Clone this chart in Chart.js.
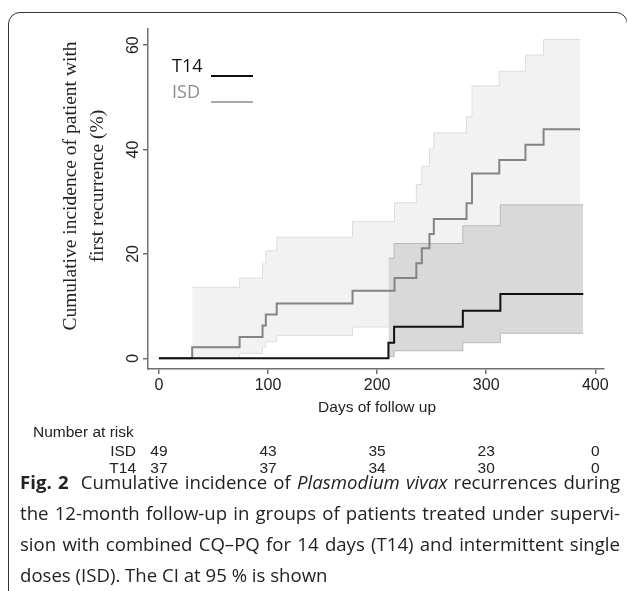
<!DOCTYPE html>
<html>
<head>
<meta charset="utf-8">
<script src="https://cdn.jsdelivr.net/npm/chart.js@4.4.1/dist/chart.umd.min.js"></script>
<style>
  html, body { margin: 0; padding: 0; background: #fff; }
  body { width: 627px; height: 591px; position: relative; overflow: hidden; }
  #frame {
    position: absolute; left: 8px; top: 12px; width: 620px; height: 700px;
    border: 1.5px solid #333; border-radius: 12px; box-sizing: border-box;
  }
  #grafik { position: absolute; left: 0; top: 0; }
  #caption {
    position: absolute; left: 20px; top: 466px; width: 600px;
    font-family: "Open Sans", sans-serif; font-size: 18.6px; color: #222;
    line-height: 31px;
  }
  #caption .l { white-space: nowrap; text-align: justify; text-align-last: justify; }
  #caption .l.last { text-align-last: left; }
  #caption b { font-weight: 700; margin-right: 6px; }
</style>
</head>
<body>
<div id="frame"></div>
<canvas id="grafik" width="627" height="591"></canvas>
<div id="caption">
  <div class="l"><b>Fig. 2</b> Cumulative incidence of <i>Plasmodium vivax</i> recurrences during</div>
  <div class="l">the 12-month follow-up in groups of patients treated under supervi-</div>
  <div class="l">sion with combined CQ–PQ for 14 days (T14) and intermittent single</div>
  <div class="l last">doses (ISD). The CI at 95 % is shown</div>
</div>
<script>
// ISD grubu (aralıklı tek doz)
const isdDays  = [0, 30.5, 74, 95, 98, 108, 177.5, 216, 236, 241, 248, 252, 282, 287, 312, 336, 352.6, 386];
const isdCum   = [0, 2.1, 4.1, 6.3, 8.4, 10.5, 12.95, 15.4, 18.2, 21.1, 23.8, 26.7, 29.7, 35.4, 38.0, 40.9, 43.9, 43.9];
const isdCiDays = [30.5, 74, 95, 98, 108, 177.5, 216, 236, 241, 248, 252, 282, 287, 312, 336, 352.6, 386];
const isdUpper = [13.6, 15.4, 18.1, 20.6, 23.2, 26.2, 29.8, 33.3, 36.8, 40.1, 43.2, 46.3, 52.2, 55.0, 58.1, 61.1, 61.1];
const isdLower = [0, 0.95, 2.1, 3.2, 4.4, 6.0, 7.5, 9.5, 11.5, 13.5, 15.5, 17.5, 21.5, 23.5, 26.0, 28.5, 28.5];

// T14 grubu (14 gün)
const t14Days  = [0, 210.4, 215.6, 278.6, 313, 389];
const t14Cum   = [0, 3.0, 6.05, 9.1, 12.3, 12.3];
const t14CiDays = [210.4, 215.6, 278.6, 313, 389];
const t14Upper = [19.2, 22.0, 25.4, 29.4, 29.4];
const t14Lower = [0.3, 1.45, 3.0, 4.8, 4.8];

// Eksen ve risk tablosu
const xTicks = [0, 100, 200, 300, 400];
const yTicks = [0, 20, 40, 60];
const riskTimes = [0, 100, 200, 300, 400];
const isdAtRisk = [49, 43, 35, 23, 0];
const t14AtRisk = [37, 37, 34, 30, 0];

const pts = (xs, ys) => xs.map((x, i) => ({ x: x, y: ys[i] }));

const sansFont = '"Liberation Sans", Arial, sans-serif';

function seri(label, data, color, width, order, fill, bg) {
  return {
    label: label,
    data: data,
    borderColor: color,
    borderWidth: width,
    backgroundColor: bg || "transparent",
    fill: fill === undefined ? false : fill,
    stepped: "before",
    pointRadius: 0,
    order: order,
  };
}

// Ek çizimler: y etiketleri, başlıklar, lejant, risk tablosu
const ekCizim = {
  id: "ekCizim",
  afterDraw(chart) {
    const ctx = chart.ctx;
    const xs = chart.scales.x;
    const ys = chart.scales.y;
    ctx.save();
    ctx.fillStyle = "#222";
    ctx.font = "16px " + sansFont;
    ctx.textAlign = "center";
    ctx.textBaseline = "middle";
    yTicks.forEach((v) => {
      ctx.save();
      ctx.translate(134, ys.getPixelForValue(v));
      ctx.rotate(-Math.PI / 2);
      ctx.fillText(String(v), 0, 0);
      ctx.restore();
    });

    // y başlığı
    ctx.font = '19.5px "Liberation Serif", "Times New Roman", serif';
    ctx.save();
    ctx.translate(71, 186);
    ctx.rotate(-Math.PI / 2);
    ctx.fillText("Cumulative incidence of patient with", 0, 0);
    ctx.restore();
    ctx.save();
    ctx.translate(98, 186);
    ctx.rotate(-Math.PI / 2);
    ctx.fillText("first recurrence (%)", 0, 0);
    ctx.restore();

    // x başlığı
    ctx.font = "15.5px " + sansFont;
    ctx.fillText("Days of follow up", xs.getPixelForValue(200), 408);

    // risk tablosu
    ctx.textAlign = "left";
    ctx.fillText("Number at risk", 33, 433);
    ctx.textAlign = "right";
    ctx.fillText("ISD", 136, 452);
    ctx.fillText("T14", 136, 469);
    ctx.textAlign = "center";
    riskTimes.forEach((t, i) => {
      const px = xs.getPixelForValue(t);
      ctx.fillText(String(isdAtRisk[i]), px, 452);
      ctx.fillText(String(t14AtRisk[i]), px, 469);
    });

    // lejant
    ctx.textAlign = "left";
    ctx.font = '18px "Open Sans", sans-serif';
    ctx.fillStyle = "#111";
    ctx.fillText("T14", 172, 67);
    ctx.fillStyle = "#8c8c8c";
    ctx.fillText("ISD", 172, 93);
    ctx.lineWidth = 2;
    ctx.strokeStyle = "#111";
    ctx.beginPath(); ctx.moveTo(211, 76); ctx.lineTo(253, 76); ctx.stroke();
    ctx.lineWidth = 1.5;
    ctx.strokeStyle = "#8c8c8c";
    ctx.beginPath(); ctx.moveTo(211, 102); ctx.lineTo(253, 102); ctx.stroke();
    ctx.restore();
  },
};

const ctx = document.getElementById("grafik").getContext("2d");
new Chart(ctx, {
  type: "line",
  data: {
    datasets: [
      seri("T14", pts(t14Days, t14Cum), "#111111", 2, 1),
      seri("ISD", pts(isdDays, isdCum), "#848484", 2, 2),
      seri("T14 alt", pts(t14CiDays, t14Lower), "#b9b9b9", 1, 3),
      seri("T14 üst", pts(t14CiDays, t14Upper), "#b9b9b9", 1, 4, 2, "#d9d9d9"),
      seri("ISD alt", pts(isdCiDays, isdLower), "#dedede", 1, 5),
      seri("ISD üst", pts(isdCiDays, isdUpper), "#dedede", 1, 6, 4, "#f2f2f2"),
    ],
  },
  options: {
    responsive: false,
    animation: false,
    devicePixelRatio: 1,
    layout: { padding: { top: 29, right: 23, left: 0, bottom: 0 } },
    plugins: {
      legend: { display: false },
      tooltip: { enabled: false },
      filler: { drawTime: "beforeDatasetDraw" },
    },
    scales: {
      x: {
        type: "linear",
        min: -10,
        max: 408,
        afterBuildTicks: (s) => { s.ticks = xTicks.map((v) => ({ value: v })); },
        afterFit: (s) => { s.height = 222; },
        grid: { drawOnChartArea: false, drawTicks: true, tickLength: 5, color: "#707070", lineWidth: 1.5 },
        border: { display: true, color: "#707070", width: 1.5 },
        ticks: {
          color: "#222",
          font: { family: sansFont, size: 16 },
          padding: 2,
          maxRotation: 0,
          autoSkip: false,
        },
      },
      y: {
        type: "linear",
        min: -2.05,
        max: 63.1,
        afterBuildTicks: (s) => { s.ticks = yTicks.map((v) => ({ value: v })); },
        afterFit: (s) => { s.width = 148; },
        grid: { drawOnChartArea: false, drawTicks: true, tickLength: 5, color: "#707070", lineWidth: 1.5 },
        border: { display: true, color: "#707070", width: 1.5 },
        ticks: { display: false },
      },
    },
  },
  plugins: [ekCizim],
});
</script>
</body>
</html>
